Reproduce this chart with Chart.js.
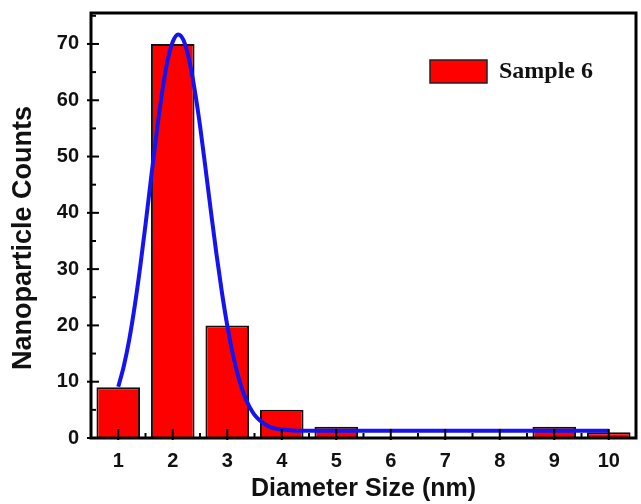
<!DOCTYPE html>
<html>
<head>
<meta charset="utf-8">
<script src="https://cdn.jsdelivr.net/npm/chart.js@4.4.0/dist/chart.umd.min.js"></script>
<style>
    html, body { margin: 0; padding: 0; background: #fff; }
</style>
</head>
<body>
<canvas id="sizeChart" width="641" height="504"></canvas>
<script>
// histogram
var diameters = [1, 2, 3, 4, 5, 6, 7, 8, 9, 10];
var counts = [9, 70, 20, 5, 2, 0, 0, 0, 2, 1];

// fitted curve
var fitX = [1.0, 1.1, 1.2, 1.3, 1.4, 1.5, 1.6, 1.7, 1.8, 1.9,
            2.0, 2.1, 2.2, 2.3, 2.4, 2.5, 2.6, 2.7, 2.8, 2.9,
            3.0, 3.1, 3.2, 3.3, 3.4, 3.5, 3.6, 3.7, 3.8, 3.9,
            4.0, 4.2, 4.5, 5, 6, 7, 8, 9, 10];
var fitY = [9.1, 12.7, 17.4, 23.3, 30.2, 37.9, 46.0, 53.9, 61.1, 66.8,
            70.4, 71.7, 70.6, 67.2, 62.0, 55.5, 48.0, 40.3, 32.8, 26.0,
            20.0, 15.0, 11.0, 7.9, 5.7, 4.1, 3.1, 2.4, 1.9, 1.65,
            1.5, 1.35, 1.3, 1.3, 1.3, 1.3, 1.3, 1.3, 1.3];

var xTicks = [1, 2, 3, 4, 5, 6, 7, 8, 9, 10];
var yTicks = [0, 10, 20, 30, 40, 50, 60, 70];
var seriesName = "Sample 6";
var yTitle = "Nanoparticle Counts";

function pairs(xs, ys) {
    var r = [];
    for (var i = 0; i < xs.length; i++) {
        r.push({ x: xs[i], y: ys[i] });
    }
    return r;
}

// frame, ticks crossing the axes, y title and the legend inside the plot
var framePlugin = {
    id: "frame",
    afterDraw: function (chart) {
        var ctx = chart.ctx;
        var a = chart.chartArea;
        var xs = chart.scales.x;
        var ys = chart.scales.y;
        ctx.save();
        ctx.strokeStyle = "#000";
        ctx.lineCap = "butt";

        ctx.lineWidth = 2;
        var v, p;
        for (v = 0.5; v <= 10.5; v += 0.5) {
            p = xs.getPixelForValue(v);
            var major = (v % 1 === 0);
            ctx.beginPath();
            ctx.moveTo(p, a.bottom + (major ? 2 : 0));
            ctx.lineTo(p, a.bottom - (major ? 9 : 5));
            ctx.stroke();
        }
        for (v = 0; v <= 75; v += 5) {
            p = ys.getPixelForValue(v);
            var majorY = (v % 10 === 0);
            ctx.beginPath();
            ctx.moveTo(a.left - (majorY ? 4 : 0), p);
            ctx.lineTo(a.left + (majorY ? 8 : 5), p);
            ctx.stroke();
        }

        ctx.lineWidth = 3;
        ctx.strokeRect(a.left, a.top, a.right - a.left, a.bottom - a.top);

        // y title, sits a little below the plot centre in the original
        ctx.save();
        ctx.translate(24, a.top + 225);
        ctx.rotate(-Math.PI / 2);
        ctx.fillStyle = "#111";
        ctx.font = "bold 27px 'Liberation Sans'";
        ctx.textAlign = "center";
        ctx.textBaseline = "middle";
        ctx.fillText(yTitle, 0, 0);
        ctx.restore();

        // legend
        var lx = a.left + 339, ly = a.top + 47;
        ctx.fillStyle = "#ff0000";
        ctx.fillRect(lx, ly, 57, 23);
        ctx.lineWidth = 1.5;
        ctx.strokeStyle = "#222";
        ctx.strokeRect(lx, ly, 57, 23);
        ctx.fillStyle = "#111";
        ctx.font = "bold 24px 'Liberation Serif'";
        ctx.textBaseline = "middle";
        ctx.fillText(seriesName, lx + 69, ly + 12);
        ctx.restore();
    }
};

var ctx = document.getElementById("sizeChart");
var chart = new Chart(ctx, {
    type: "bar",
    data: {
        datasets: [{
            type: "line",
            data: pairs(fitX, fitY),
            borderColor: "#1414f0",
            borderWidth: 4,
            pointRadius: 0,
            cubicInterpolationMode: "monotone",
            fill: false,
            order: 0
        }, {
            type: "bar",
            label: seriesName,
            data: pairs(diameters, counts),
            backgroundColor: "#ff0000",
            borderColor: "#111",
            borderWidth: 2,
            borderSkipped: "start",
            barPercentage: 1,
            categoryPercentage: 0.8,
            order: 1
        }]
    },
    options: {
        responsive: false,
        animation: false,
        layout: { padding: { left: 0, right: 5, top: 13, bottom: 0 } },
        plugins: {
            legend: { display: false },
            tooltip: { enabled: false }
        },
        scales: {
            x: {
                type: "linear",
                offset: false,
                min: 0.5,
                max: 10.5,
                grid: { display: false, drawTicks: false, offset: false },
                border: { display: false },
                afterBuildTicks: function (scale) {
                    scale.ticks = xTicks.map(function (t) { return { value: t }; });
                },
                afterFit: function (scale) {
                    scale.height = 66;
                    scale.paddingLeft = 0;
                    scale.paddingRight = 0;
                },
                ticks: {
                    color: "#111",
                    padding: 11,
                    maxRotation: 0,
                    font: { family: "'Liberation Sans'", size: 20, weight: "bold" }
                },
                title: {
                    display: true,
                    text: "Diameter Size (nm)",
                    color: "#111",
                    padding: { top: 0, bottom: 0 },
                    font: { family: "'Liberation Sans'", size: 25, weight: "bold" }
                }
            },
            y: {
                min: 0,
                max: 75.5,
                grid: { display: false, drawTicks: false },
                border: { display: false },
                afterBuildTicks: function (scale) {
                    scale.ticks = yTicks.map(function (t) { return { value: t }; });
                },
                afterFit: function (scale) {
                    scale.width = 91;
                    scale.paddingTop = 0;
                    scale.paddingBottom = 0;
                },
                ticks: {
                    color: "#111",
                    padding: 12,
                    font: { family: "'Liberation Sans'", size: 20, weight: "bold" }
                },
                title: { display: false }
            }
        }
    },
    plugins: [framePlugin]
});
</script>
</body>
</html>
